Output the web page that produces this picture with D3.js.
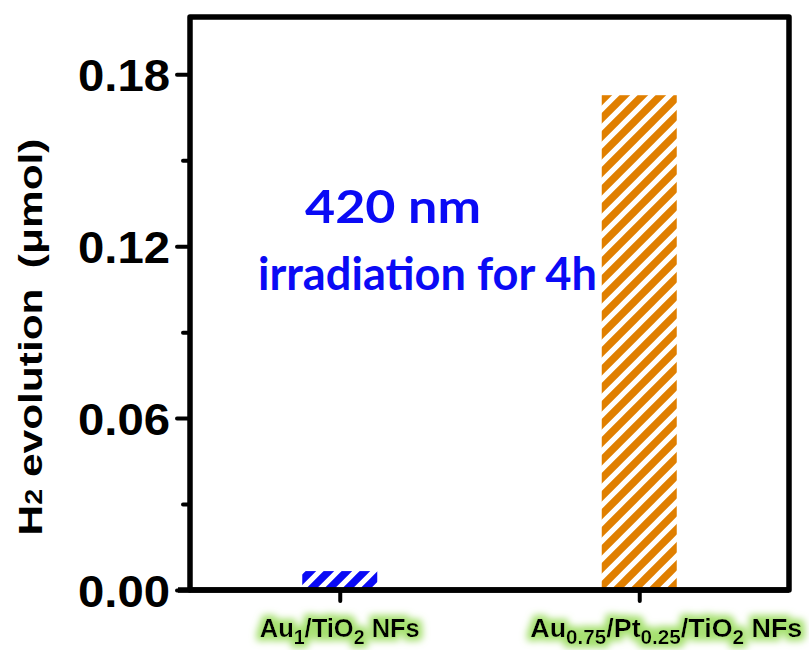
<!DOCTYPE html>
<html>
<head>
<meta charset="utf-8">
<script src="https://cdn.jsdelivr.net/npm/d3@7"></script>
<style>
  html, body { margin: 0; padding: 0; background: #ffffff; }
  svg { display: block; }
</style>
</head>
<body>
<svg id="chart" width="809" height="650"></svg>
<script>
// Samples on the x axis; "_{...}" marks a subscript
const categories = ["Au_{1}/TiO_{2} NFs", "Au_{0.75}/Pt_{0.25}/TiO_{2} NFs"];
// H2 evolved after 4 h of 420 nm irradiation (µmol)
const h2Values = [0.0066, 0.1727];
const barColors = ["#0a0af5", "#e07f00"];
const yMajorTicks = [0.00, 0.06, 0.12, 0.18];
const yMinorTicks = [0.03, 0.09, 0.15];
const noteLines = ["420 nm", "irradiation for 4h"];

const svg = d3.select("#chart");
const margin = { left: 190, right: 20, top: 17, bottom: 60 };
const W = 809, H = 650;
const plotW = W - margin.left - margin.right;
const plotH = H - margin.top - margin.bottom;

const x = d3.scalePoint().domain(categories).range([0, plotW]).padding(0.5);
const y = d3.scaleLinear().domain([0, 0.2]).range([plotH, 0]);
const barW = 75;

// label layout: horizontal nudge and drawn width of each sample name
const labelShift = [0, 27];
const labelWidth = [160, 272];

const defs = svg.append("defs");

// diagonal white hatching over the bar colour
barColors.forEach((c, i) => {
  const p = defs.append("pattern")
    .attr("id", "hatch" + i)
    .attr("patternUnits", "userSpaceOnUse")
    .attr("width", 18).attr("height", 18);
  p.append("rect").attr("width", 18).attr("height", 18).attr("fill", c);
  p.append("path")
    .attr("d", "M-4.5,4.5 L4.5,-4.5 M0,18 L18,0 M13.5,22.5 L22.5,13.5")
    .attr("stroke", "#ffffff").attr("stroke-width", 5.2);
});

// soft green glow behind the sample names
const glow = defs.append("filter").attr("id", "glow")
  .attr("x", "-10%").attr("y", "-50%").attr("width", "120%").attr("height", "200%");
glow.append("feMorphology").attr("in", "SourceAlpha").attr("operator", "dilate").attr("radius", 4).attr("result", "fat");
glow.append("feGaussianBlur").attr("in", "fat").attr("stdDeviation", 3.5).attr("result", "blur");
glow.append("feFlood").attr("flood-color", "#a6e070").attr("result", "col");
glow.append("feComposite").attr("in", "col").attr("in2", "blur").attr("operator", "in").attr("result", "halo");
const gm = glow.append("feMerge");
gm.append("feMergeNode").attr("in", "halo");
gm.append("feMergeNode").attr("in", "SourceGraphic");

const g = svg.append("g").attr("transform", `translate(${margin.left},${margin.top})`);

// bars
g.selectAll("rect.bar").data(h2Values).join("rect")
  .attr("class", "bar")
  .attr("x", (d, i) => x(categories[i]) - barW / 2)
  .attr("width", barW)
  .attr("y", d => y(d))
  .attr("height", d => y(0) - y(d))
  .attr("fill", (d, i) => `url(#hatch${i})`);

// frame
g.append("rect")
  .attr("x", 0).attr("y", 0).attr("width", plotW).attr("height", plotH)
  .attr("fill", "none").attr("stroke", "#000").attr("stroke-width", 5.5)
  .attr("stroke-linejoin", "round");

// y axis, major ticks
const yAxis = g.append("g")
  .call(d3.axisLeft(y).tickValues(yMajorTicks).tickSize(13).tickPadding(7).tickFormat(d3.format(".2f")));
yAxis.select(".domain").remove();
yAxis.selectAll(".tick line").attr("stroke", "#000").attr("stroke-width", 4).attr("stroke-linecap", "round");
yAxis.selectAll(".tick text")
  .attr("font-family", "'Liberation Sans', Arial, sans-serif")
  .attr("font-weight", "bold").attr("font-size", 45).attr("fill", "#000")
  .attr("textLength", 92).attr("lengthAdjust", "spacingAndGlyphs")
  .attr("dy", "0.36em");

// y axis, minor ticks
const yMinor = g.append("g")
  .call(d3.axisLeft(y).tickValues(yMinorTicks).tickSize(7).tickFormat(""));
yMinor.select(".domain").remove();
yMinor.selectAll(".tick line").attr("stroke", "#000").attr("stroke-width", 4).attr("stroke-linecap", "round");

// x axis
const xAxis = g.append("g").attr("transform", `translate(0,${plotH})`)
  .call(d3.axisBottom(x).tickSize(11).tickFormat(""));
xAxis.select(".domain").attr("d", `M-12,0H${plotW}`).attr("stroke", "#000").attr("stroke-width", 5.5);
xAxis.selectAll(".tick line").attr("stroke", "#000").attr("stroke-width", 4).attr("stroke-linecap", "round");

// category labels with subscripts
function addRich(textSel, str, subSize) {
  const parts = str.split(/(_\{[^}]*\})/).filter(s => s.length);
  let inSub = false;
  parts.forEach(s => {
    const m = s.match(/^_\{([^}]*)\}$/);
    if (m) {
      textSel.append("tspan").attr("font-size", subSize).attr("dy", 7).text(m[1]);
      inSub = true;
    } else {
      textSel.append("tspan").attr("dy", inSub ? -7 : 0).text(s);
      inSub = false;
    }
  });
}
categories.forEach((c, i) => {
  const t = g.append("text")
    .attr("x", x(c) + labelShift[i] - labelWidth[i] / 2).attr("y", plotH + 47)
    .attr("font-family", "'Liberation Sans', Arial, sans-serif")
    .attr("font-weight", "bold").attr("font-size", 26).attr("fill", "#000")
    .attr("textLength", labelWidth[i]).attr("lengthAdjust", "spacingAndGlyphs")
    .attr("filter", "url(#glow)");
  addRich(t, c, 20);
});

// y axis title
const yt = svg.append("text")
  .attr("transform", "translate(42,337) rotate(-90)")
  .attr("text-anchor", "middle")
  .attr("font-family", "'Liberation Sans', Arial, sans-serif")
  .attr("font-weight", "bold").attr("font-size", 34).attr("fill", "#000")
  .attr("textLength", 397).attr("lengthAdjust", "spacingAndGlyphs");
yt.append("tspan").text("H");
yt.append("tspan").attr("font-size", 23).text("2");
yt.append("tspan").text(" evolution\u2009 (\u03bcmol)");

// irradiation note
const note = svg.append("g")
  .attr("font-family", "Lato, 'Open Sans', sans-serif")
  .attr("font-weight", "bold").attr("font-size", 46).attr("fill", "#0a0af5");
note.append("text").attr("x", 305).attr("y", 223)
  .attr("textLength", 176).attr("lengthAdjust", "spacingAndGlyphs").text(noteLines[0]);
note.append("text").attr("x", 258).attr("y", 290)
  .attr("textLength", 339).attr("lengthAdjust", "spacingAndGlyphs").text(noteLines[1]);
</script>
</body>
</html>
